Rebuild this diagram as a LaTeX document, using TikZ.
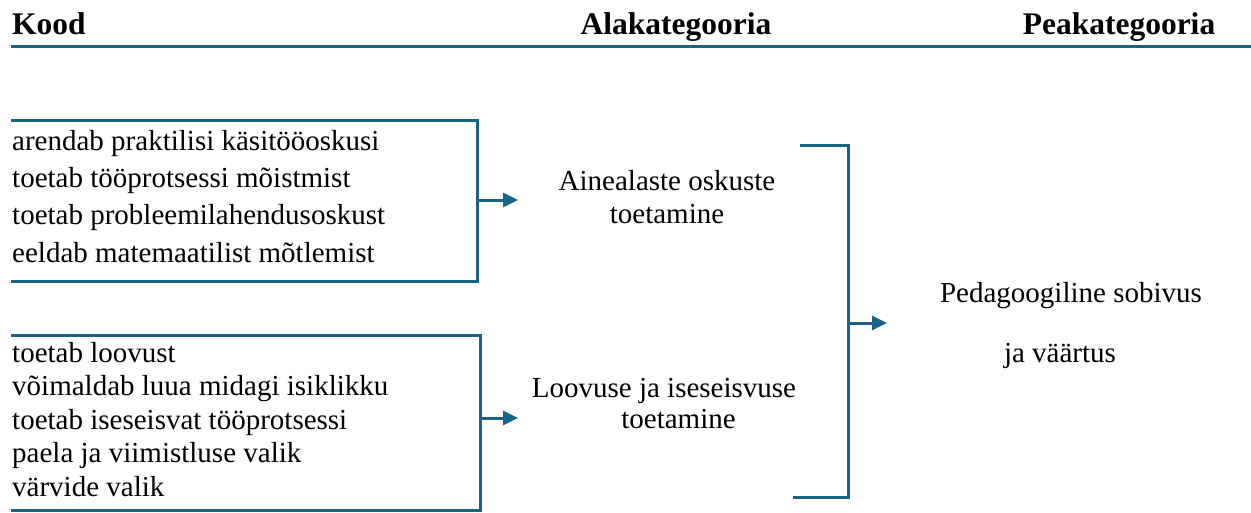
\documentclass[tikz,border=0pt]{standalone}
\usepackage{fontspec}
\setmainfont{Liberation Serif}
\usetikzlibrary{arrows.meta}
\definecolor{linkblue}{RGB}{27,99,134}
\begin{document}
\begin{tikzpicture}[x=1pt, y=-1pt]
    % Define styles
    \tikzstyle{head} = [inner sep=0, anchor=base, font=\fontsize{31.5}{36}\selectfont\bfseries]
    \tikzstyle{code} = [inner sep=0, align=left, anchor=base west]
    \tikzstyle{sub} = [inner sep=0, align=center, anchor=base, font=\fontsize{29}{33}\selectfont]
    \tikzstyle{bracket} = [draw, line width=3pt, linkblue]
    \tikzstyle{line} = [draw, line width=3pt, linkblue, -{Triangle[length=15pt, width=14pt]}]

    \useasboundingbox (0,0) rectangle (1251,512);

    % Place nodes
    \node [head, anchor=base west] (kood) at (12,34) {Kood};
    \node [head] (ala) at (676,34) {Alakategooria};
    \node [head] (pea) at (1119,34) {Peakategooria};

    \node [code, font=\fontsize{29}{37.3}\selectfont] (codes1) at (12,262)
        {arendab praktilisi käsitööoskusi\\toetab tööprotsessi mõistmist\\toetab probleemilahendusoskust\\eeldab matemaatilist mõtlemist};
    \node [code, font=\fontsize{29}{33.5}\selectfont] (codes2) at (12,496)
        {toetab loovust\\võimaldab luua midagi isiklikku\\toetab iseseisvat tööprotsessi\\paela ja viimistluse valik\\värvide valik};

    \node [sub] (ained) at (667,223) {Ainealaste oskuste\\toetamine};
    \node [sub, font=\fontsize{29}{31}\selectfont] (loovus) at (664,428) {Loovuse ja iseseisvuse\\\hspace*{29pt}toetamine};
    \node [sub, font=\fontsize{29}{60}\selectfont] (pedag) at (1071,362) {Pedagoogiline sobivus\\\hspace*{-22pt}ja väärtus};

    \coordinate (c1) at (477,200);
    \coordinate (c1end) at (518,200);
    \coordinate (c2) at (480,418);
    \coordinate (c2end) at (518,418);
    \coordinate (c3) at (848,323);
    \coordinate (c3end) at (887,323);

    % Draw brackets
    \draw [bracket, line width=3.5pt] (11,46.5) -- (1251,46.5);
    \draw [bracket] (11,120) -| (477,281) -- (11,281);
    \draw [bracket] (11,335) -| (480,510) -- (11,510);
    \draw [bracket] (800,145) -| (848,497) -- (793,497);

    % Draw edges
    \path [line] (c1) -- (c1end);
    \path [line] (c2) -- (c2end);
    \path [line] (c3) -- (c3end);
\end{tikzpicture}
\end{document}
